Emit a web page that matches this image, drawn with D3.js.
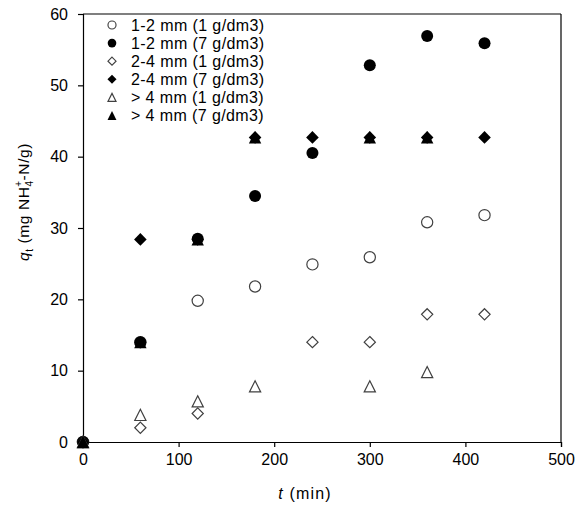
<!DOCTYPE html>
<html><head><meta charset="utf-8">
<script src="https://cdn.jsdelivr.net/npm/d3@7"></script>
<style>body{margin:0;background:#fff}svg{display:block}text{font-family:"Liberation Sans",Arial,sans-serif;fill:#000}</style>
</head><body>
<script>
const times = [0, 60, 120, 180, 240, 300, 360, 420];
const seriesNames = ["1-2 mm (1 g/dm3)", "1-2 mm (7 g/dm3)", "2-4 mm (1 g/dm3)", "2-4 mm (7 g/dm3)", "> 4 mm (1 g/dm3)", "> 4 mm (7 g/dm3)"];
const s12_1 = [0, 14, 19.8, 21.8, 24.9, 25.9, 30.8, 31.8];
const s12_7 = [0, 14, 28.5, 34.5, 40.5, 52.8, 56.9, 55.9];
const s24_1 = [0, 2, 4, null, 14, 14, 17.9, 17.9];
const s24_7 = [0, 28.4, 28.4, 42.7, 42.7, 42.7, 42.7, 42.7];
const s4_1 = [0, 3.8, 5.7, 7.8, null, 7.8, 9.8, null];
const s4_7 = [0, 14, 28.4, 42.7, null, 42.7, 42.7, null];
const xTicks = [0, 100, 200, 300, 400, 500];
const yTicks = [0, 10, 20, 30, 40, 50, 60];

const series = [
  {name: seriesNames[0], vals: s12_1, shape: "circle", filled: false},
  {name: seriesNames[1], vals: s12_7, shape: "circle", filled: true},
  {name: seriesNames[2], vals: s24_1, shape: "diamond", filled: false},
  {name: seriesNames[3], vals: s24_7, shape: "diamond", filled: true},
  {name: seriesNames[4], vals: s4_1, shape: "triangle", filled: false},
  {name: seriesNames[5], vals: s4_7, shape: "triangle", filled: true}
];

const W = 576, H = 505;
const m = {l: 83, r: 15, t: 14, b: 63};
const svg = d3.select("body").append("svg").attr("width", W).attr("height", H);
const x = d3.scaleLinear().domain([0, 500]).range([m.l, W - m.r]);
const y = d3.scaleLinear().domain([0, 60]).range([H - m.b, m.t]);

function shapePath(shape, filled) {
  if (shape === "circle") { const r = filled ? 6 : 5.6; return `M${-r},0A${r},${r} 0 1,0 ${r},0A${r},${r} 0 1,0 ${-r},0Z`; }
  if (shape === "diamond") { const r = filled ? 6.3 : 5.6; return `M0,${-r}L${r},0L0,${r}L${-r},0Z`; }
  const h = filled ? 6.2 : 5.6; return `M0,${-h}L${h},${h}L${-h},${h}Z`;
}

// axes
const xAxis = svg.append("g").attr("transform", `translate(0,${H - m.b})`)
  .call(d3.axisBottom(x).tickValues(xTicks).tickSize(5).tickPadding(7));
const yAxis = svg.append("g").attr("transform", `translate(${m.l},0)`)
  .call(d3.axisLeft(y).tickValues(yTicks).tickSize(5).tickPadding(10));
[xAxis, yAxis].forEach(g => {
  g.selectAll("path,line").attr("stroke", "#000").attr("stroke-width", 1.2);
  g.selectAll("text").style("font-size", "16px").style("font-family", '"Liberation Sans",Arial,sans-serif').attr("fill", "#000");
});
// top and right frame
svg.append("line").attr("x1", m.l).attr("x2", W - m.r).attr("y1", m.t).attr("y2", m.t).attr("stroke", "#000").attr("stroke-width", 1.2);
svg.append("line").attr("x1", W - m.r).attr("x2", W - m.r).attr("y1", m.t).attr("y2", H - m.b).attr("stroke", "#000").attr("stroke-width", 1.2);

// points
const pts = svg.append("g");
series.forEach(s => {
  const data = times.map((t, i) => ({t, v: s.vals[i]})).filter(d => d.v !== null);
  pts.selectAll(null).data(data).enter().append("path")
    .attr("d", shapePath(s.shape, s.filled))
    .attr("transform", d => `translate(${x(d.t)},${y(d.v)})`)
    .attr("fill", s.filled ? "#000" : "#fff")
    .attr("stroke", s.filled ? "#000" : "#404040")
    .attr("stroke-width", s.filled ? 0 : 1.2);
});

// legend
const leg = svg.append("g");
series.forEach((s, i) => {
  const cy = 25 + i * 18.1;
  leg.append("path").attr("d", shapePath(s.shape, s.filled))
    .attr("transform", `translate(112,${cy}) scale(0.72)`)
    .attr("fill", s.filled ? "#000" : "#fff")
    .attr("stroke", s.filled ? "#000" : "#404040")
    .attr("stroke-width", s.filled ? 0 : 1.6);
  leg.append("text").attr("x", 131).attr("y", cy).attr("dy", "0.36em")
    .style("font-size", "16px").style("letter-spacing", "0.4px").text(s.name);
});

// axis titles
const xt = svg.append("text").attr("x", 305).attr("y", 499).attr("text-anchor", "middle")
  .style("font-size", "16px").style("letter-spacing", "1.2px");
xt.append("tspan").style("font-style", "italic").text("t");
xt.append("tspan").text(" (min)");

const yt = svg.append("text").attr("transform", "translate(29,202) rotate(-90)").attr("text-anchor", "middle")
  .style("font-size", "15.5px").style("letter-spacing", "0.6px");
yt.append("tspan").style("font-style", "italic").text("q");
yt.append("tspan").attr("dy", 4).style("font-size", "10px").text("t");
yt.append("tspan").attr("dy", -4).text(" (mg NH");
yt.append("tspan").attr("dy", 4).style("font-size", "10px").text("4");
yt.append("tspan").attr("dx", -6.5).attr("dy", -11).style("font-size", "10px").text("+");
yt.append("tspan").attr("dy", 7).text("-N/g)");
</script>
</body></html>
